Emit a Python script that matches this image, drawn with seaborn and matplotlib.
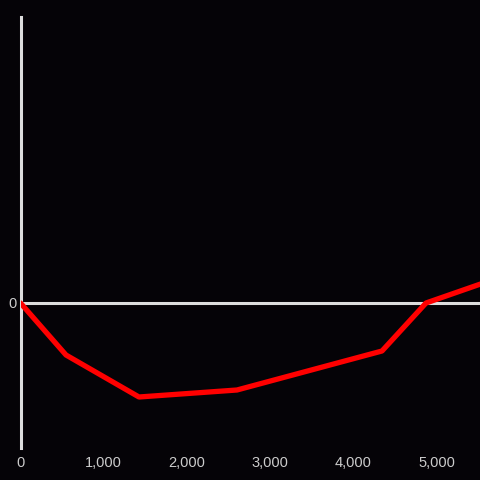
import pandas as pd
import seaborn as sns
import matplotlib.pyplot as plt
from matplotlib.ticker import FuncFormatter

x_vals = [0, 547, 1424, 2602, 4345, 4874, 5530]
y_vals = [0, -52, -94, -87, -48, 0, 19]
x_ticks = [0, 1000, 2000, 3000, 4000, 5000]

bg = "#050307"
sns.set_style("dark", {"axes.facecolor": bg, "figure.facecolor": bg})
plt.rcParams["font.family"] = ["Liberation Sans", "DejaVu Sans"]

fig = plt.figure(figsize=(4.8, 4.8), dpi=100)
ax = fig.add_axes([20.5 / 480, 32 / 480, 459.5 / 480, 431 / 480])

df = pd.DataFrame({"x": x_vals, "y": y_vals})
sns.lineplot(data=df, x="x", y="y", ax=ax, color="#ff0000", linewidth=3.8,
             sort=False, zorder=3)

ax.axhline(0, color="#dddddd", linewidth=2.2, zorder=2)
ax.set_xlim(0, 5523)
ax.set_ylim(-145, 286)

for s in ["top", "right", "bottom"]:
    ax.spines[s].set_visible(False)
ax.spines["left"].set_color("#dddddd")
ax.spines["left"].set_linewidth(2.2)

ax.set_xticks(x_ticks)
ax.xaxis.set_major_formatter(FuncFormatter(lambda v, p: f"{int(v):,}"))
ax.set_yticks([0])
ax.tick_params(axis="both", length=0, labelsize=10.5, colors="#cccccc")
ax.tick_params(axis="x", pad=6)
ax.tick_params(axis="y", pad=3)
ax.grid(False)
ax.set_xlabel("")
ax.set_ylabel("")

fig.savefig("out.png", dpi=100, facecolor=bg)
